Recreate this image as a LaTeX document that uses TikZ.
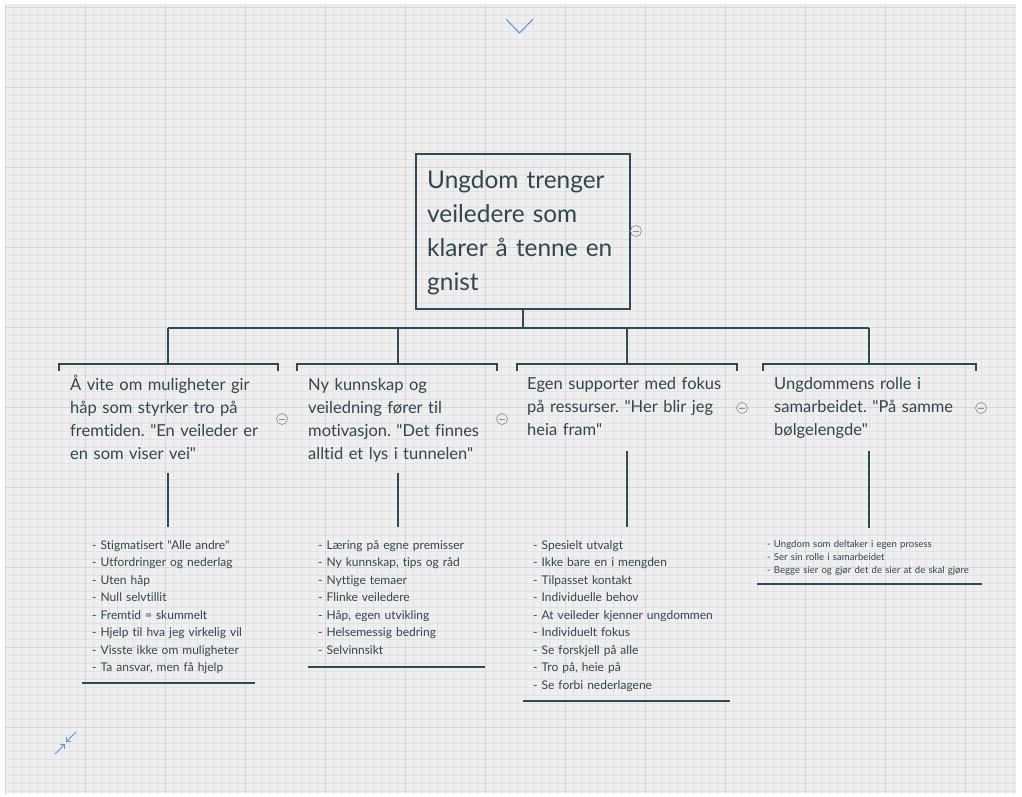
\documentclass[tikz,border=0pt]{standalone}
\usepackage{fontspec}
\usetikzlibrary{arrows.meta}
\setmainfont{Lato}[Ligatures={TeXOff,CommonOff}]
\frenchspacing
\definecolor{ink}{RGB}{48,74,82}
\definecolor{txt}{RGB}{50,70,76}
\definecolor{paper}{RGB}{239,239,239}
\definecolor{minorgrid}{RGB}{226,226,226}
\definecolor{majorgrid}{RGB}{214,214,214}
\definecolor{ui}{RGB}{90,145,220}
\tikzset{
  line/.style={draw=ink,line width=1.3pt},
  minus/.style={circle,draw=gray!85,line width=0.7pt,minimum size=11pt,inner sep=0pt,
    path picture={\draw[gray!85,line width=0.7pt]
      ([xshift=-3pt]path picture bounding box.center) -- ([xshift=3pt]path picture bounding box.center);}}
}
\begin{document}
\begin{tikzpicture}[x=1pt,y=-1pt]

        \useasboundingbox (0,0) rectangle (1022,796);
        \fill[paper] (5,4) rectangle (1016,793);
        \begin{scope}
          \clip (5,4) rectangle (1016,793);
          \draw[minorgrid,line width=0.4pt,step=8pt,shift={(5,7)}] (0,-8) grid (1016,792);
          \draw[majorgrid,line width=0.5pt,step=80pt,shift={(5,7)}] (0,-80) grid (1040,800);
        \end{scope}

        % root
        \node[draw=ink,line width=1.3pt,minimum width=214pt,minimum height=155pt] (root) at (523,231.5) {};
        \node[anchor=base west,text width=200pt,align=left,inner sep=0pt,text=txt,
          font=\fontsize{24.4}{34}\selectfont] (roottxt) at (427,188)
          {Ungdom trenger\\veiledere som\\klarer å tenne en\\gnist};
        \node[minus] (m0) at (636,231) {};

        \begin{scope}[every node/.style={anchor=base west,text width=215pt,align=left,inner sep=0pt,
            text=txt,font=\fontsize{16.5}{23}\selectfont}]
          \node (c1) at (70,390)  {Å vite om muligheter gir\\håp som styrker tro på\\fremtiden. "En veileder er\\en som viser vei"};
          \node (c2) at (308,390) {Ny kunnskap og\\veiledning fører til\\motivasjon. "Det finnes\\alltid et lys i tunnelen"};
          \node (c3) at (527,389) {Egen supporter med fokus\\på ressurser. "Her blir jeg\\heia fram"};
          \node (c4) at (774,389) {Ungdommens rolle i\\samarbeidet. "På samme\\bølgelengde"};
        \end{scope}

        \begin{scope}[every node/.style={minus}]
          \node (m1) at (282,419) {};
          \node (m2) at (502,419) {};
          \node (m3) at (742,408) {};
          \node (m4) at (981,408) {};
        \end{scope}

        \begin{scope}[every node/.style={anchor=base west,text width=230pt,align=left,inner sep=0pt,
            text=txt,font=\fontsize{12}{17.5}\selectfont}]
          \node (l1) at (92,549)  {- Stigmatisert "Alle andre"\\- Utfordringer og nederlag\\- Uten håp\\- Null selvtillit\\- Fremtid = skummelt\\- Hjelp til hva jeg virkelig vil\\- Visste ikke om muligheter\\- Ta ansvar, men få hjelp};
          \node (l2) at (318,549) {- Læring på egne premisser\\- Ny kunnskap, tips og råd\\- Nyttige temaer\\- Flinke veiledere\\- Håp, egen utvikling\\- Helsemessig bedring\\- Selvinnsikt};
          \node (l3) at (533,549) {- Spesielt utvalgt\\- Ikke bare en i mengden\\- Tilpasset kontakt\\- Individuelle behov\\- At veileder kjenner ungdommen\\- Individuelt fokus\\- Se forskjell på alle\\- Tro på, heie på\\- Se forbi nederlagene};
          \node[font=\fontsize{9.6}{13}\selectfont] (l4) at (767,547) {- Ungdom som deltaker i egen prosess\\- Ser sin rolle i samarbeidet\\- Begge sier og gjør det de sier at de skal gjøre};
        \end{scope}

        % connectors
        \coordinate (bus) at (523,328);
        \coordinate (h1) at (168,328);
        \coordinate (h2) at (398,328);
        \coordinate (h3) at (627,328);
        \coordinate (h4) at (869,328);
        \coordinate (t1) at (168,364);
        \coordinate (t2) at (398,364);
        \coordinate (t3) at (627,364);
        \coordinate (t4) at (869,364);
        \path[line] (root.south) -- (bus);
        \path[line] (h1) -- (h4);
        \foreach \i in {1,...,4}
          \path[line] (h\i) -- (t\i);

        % brackets above the children
        \path[line] (59,371) -- (59,364) -- (278,364) -- (278,371);
        \path[line] (297,371) -- (297,364) -- (497,364) -- (497,371);
        \path[line] (517,371) -- (517,364) -- (737,364) -- (737,371);
        \path[line] (763,371) -- (763,364) -- (976,364) -- (976,371);

        % stems down to the lists
        \coordinate (s1) at (168,473);
        \coordinate (s2) at (398,473);
        \coordinate (s3) at (627,451);
        \coordinate (s4) at (869,451);
        \coordinate (e1) at (168,527);
        \coordinate (e2) at (398,527);
        \coordinate (e3) at (627,527);
        \coordinate (e4) at (869,528);
        \foreach \i in {1,...,4}
          \path[line] (s\i) -- (e\i);

        % underlines
        \path[line] (82,683) -- (255,683);
        \path[line] (308,667) -- (485,667);
        \path[line] (523,701) -- (730,701);
        \path[line] (757,584) -- (982,584);

        % view controls
        \coordinate (v1) at (506,19);
        \coordinate (v2) at (519.5,33);
        \coordinate (v3) at (533,19);
        \draw[ui,line width=1pt] (v1) -- (v2) -- (v3);
        \coordinate (z0) at (55,754);
        \coordinate (z1) at (65,744);
        \coordinate (z2) at (76,732);
        \coordinate (z3) at (66,742);
        \draw[ui,line width=1pt,-{Straight Barb[length=3pt]}] (z0) -- (z1);
        \draw[ui,line width=1pt,-{Straight Barb[length=3pt]}] (z2) -- (z3);

      \end{tikzpicture}
\end{document}
